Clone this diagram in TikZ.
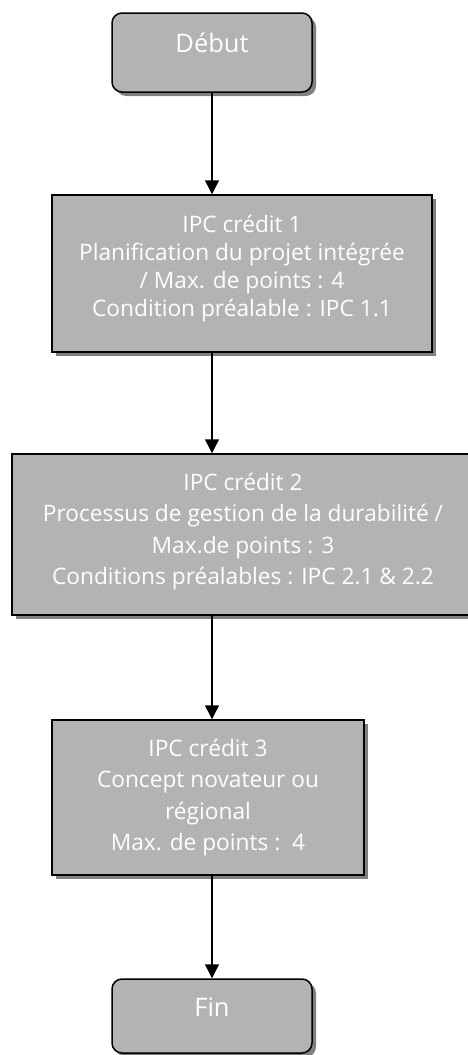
\documentclass[tikz,border=0pt]{standalone}
\usepackage{fontspec}
\setmainfont{Open Sans}
\usetikzlibrary{arrows.meta,shadows}
\definecolor{boxgray}{RGB}{179,179,179}
\definecolor{shadowgray}{RGB}{128,128,128}

\begin{document}
\begin{tikzpicture}[x=1pt,y=-1pt,
		stepbox/.style={draw=black,line width=1.5pt,fill=boxgray,text=white,align=center,
			drop shadow={shadow xshift=4pt,shadow yshift=-4pt,fill=shadowgray,opacity=1}},
		endbox/.style={stepbox,rounded corners=10pt,minimum width=200pt,
			font=\fontsize{25.5}{31}\selectfont,text height=18pt,text depth=18pt},
		flow/.style={line width=1.5pt,-{Triangle[length=14pt,width=14pt]}}]
	\useasboundingbox (0,0) rectangle (467,1055);
	\node[endbox,minimum height=79pt] (debut) at (212,52.5) {Début};
	\node[stepbox,minimum width=380pt,minimum height=157pt,font=\fontsize{22.7}{28}\selectfont] (c1) at (242,273.5)
		{IPC crédit 1\\Planification du projet intégrée\\/ Max. de points : 4\\Condition préalable : IPC 1.1\\[-12pt]};
	\node[stepbox,minimum width=462pt,minimum height=161pt,font=\fontsize{22.7}{31.5}\selectfont] (c2) at (243,534.5)
		{IPC crédit 2\\Processus de gestion de la durabilité /\\Max.de points : 3\\Conditions préalables : IPC 2.1 \& 2.2\\[-20pt]};
	\node[stepbox,minimum width=312pt,minimum height=155pt,font=\fontsize{22.7}{31.5}\selectfont] (c3) at (208,797.5)
		{IPC crédit 3\\Concept novateur ou\\régional\\Max. de points :~~4};
	\node[endbox,minimum height=74pt] (fin) at (212,1016) {Fin};
	\draw[flow] (debut) -- (debut |- c1.north);
	\draw[flow] (c1.south -| debut) -- (c2.north -| debut);
	\draw[flow] (c2.south -| debut) -- (c3.north -| debut);
	\draw[flow] (c3.south -| debut) -- (fin);
\end{tikzpicture}
\end{document}
